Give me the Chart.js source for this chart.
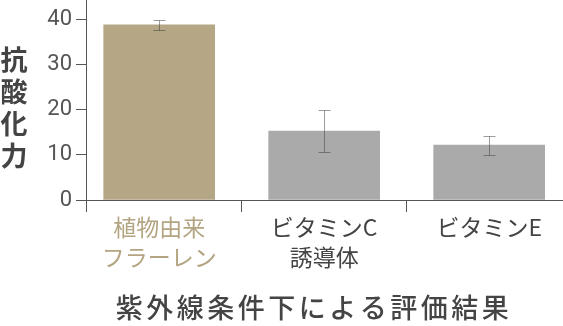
<!DOCTYPE html>
<html>
<head>
<meta charset="utf-8">
<script src="https://cdn.jsdelivr.net/npm/chart.js@4"></script>
<style>
  html, body { margin: 0; padding: 0; background: #fff; }
</style>
</head>
<body>
<canvas id="chart" width="563" height="326"></canvas>
<script>
// data
const categories = [['植物由来', 'フラーレン'], ['ビタミンC', '誘導体'], 'ビタミンE'];
const values = [38.9, 15.3, 12.2];
const errors = [1.2, 4.7, 2.1];
const yTicks = [0, 10, 20, 30, 40];
const yTitle = '抗酸化力';
const xTitle = '紫外線条件下による評価結果';

const barColors = ['#b5a686', '#aaaaaa', '#aaaaaa'];
const labelColors = ['#b3a482', '#444444', '#444444'];
const axisColor = '#555555';

// error bars, the small axis stub under the corner and the two titles
const extras = {
  id: 'extras',
  afterDatasetsDraw(chart) {
    const ctx = chart.ctx;
    const xs = chart.scales.x, ys = chart.scales.y;
    ctx.save();
    ctx.strokeStyle = 'rgba(60,60,60,0.5)';
    ctx.lineWidth = 1;
    values.forEach((v, i) => {
      const px = Math.round(xs.getPixelForValue(i)) + 0.5;
      const top = Math.round(ys.getPixelForValue(v + errors[i])) + 0.5;
      const bot = Math.round(ys.getPixelForValue(v - errors[i])) + 0.5;
      ctx.beginPath();
      ctx.moveTo(px, top); ctx.lineTo(px, bot);
      ctx.moveTo(px - 6, top); ctx.lineTo(px + 6, top);
      ctx.moveTo(px - 6, bot); ctx.lineTo(px + 6, bot);
      ctx.stroke();
    });
    ctx.restore();
  },
  afterDraw(chart) {
    const ctx = chart.ctx;
    const area = chart.chartArea;
    ctx.save();
    // y axis runs a little below the x axis
    const ax = Math.round(area.left - 0.5) + 0.5;
    ctx.strokeStyle = axisColor;
    ctx.lineWidth = 1;
    ctx.beginPath();
    ctx.moveTo(ax, area.bottom);
    ctx.lineTo(ax, area.bottom + 12);
    ctx.stroke();

    // vertical y title, one character per line
    ctx.fillStyle = '#444444';
    ctx.font = "bold 27px 'Noto Sans CJK JP', sans-serif";
    ctx.textAlign = 'center';
    ctx.textBaseline = 'middle';
    Array.from(yTitle).forEach((ch, i) => {
      ctx.fillText(ch, 14, 60 + i * 31.8);
    });

    // bottom title
    ctx.font = "500 27px 'Noto Sans CJK JP', sans-serif";
    ctx.letterSpacing = '3.5px';
    ctx.fillText(xTitle, 314, 308);
    ctx.restore();
  }
};

new Chart(document.getElementById('chart'), {
  type: 'bar',
  data: {
    datasets: [{
      data: values.map((v, i) => ({ x: i, y: v })),
      backgroundColor: barColors,
      barThickness: 111,
      borderWidth: 0
    }]
  },
  options: {
    responsive: false,
    animation: false,
    devicePixelRatio: 1,
    layout: { padding: 0 },
    plugins: {
      legend: { display: false },
      tooltip: { enabled: false }
    },
    scales: {
      x: {
        type: 'linear',
        min: -0.4435,
        max: 2.4474,
        offset: false,
        afterBuildTicks: s => { s.ticks = categories.map((c, i) => ({ value: i })); },
        afterFit: s => { s.height = 126; s.paddingLeft = 0; s.paddingRight = 0; },
        grid: {
          offset: true,
          drawOnChartArea: false,
          drawTicks: true,
          tickLength: 12,
          color: axisColor
        },
        border: { color: axisColor, width: 1 },
        ticks: {
          autoSkip: false,
          maxRotation: 0,
          padding: 0,
          callback: (v, i) => categories[i],
          color: c => labelColors[c.index],
          font: { family: "'Noto Sans CJK JP', sans-serif", size: 23, lineHeight: 1.3 }
        }
      },
      y: {
        min: 0,
        max: 44.44,
        afterBuildTicks: s => { s.ticks = yTicks.map(v => ({ value: v })); },
        afterFit: s => { s.width = 86; s.paddingTop = 0; s.paddingBottom = 0; },
        grid: {
          drawOnChartArea: false,
          tickLength: 10,
          color: axisColor
        },
        border: { color: axisColor, width: 1 },
        ticks: {
          padding: 4,
          color: '#555555',
          font: { family: "'Liberation Sans Narrow', 'Roboto', sans-serif", size: 22 }
        }
      }
    }
  },
  plugins: [extras]
});
</script>
</body>
</html>
